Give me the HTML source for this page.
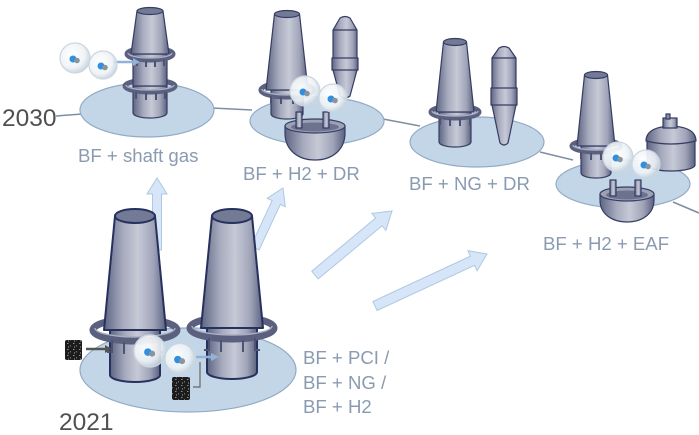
<!DOCTYPE html>
<html><head><meta charset="utf-8"><style>
html,body{margin:0;padding:0;background:#fff}
svg{display:block}
.t{font-family:"Liberation Sans",Arial,sans-serif;font-size:18.6px;fill:#8a9ab0}
.y{font-family:"Liberation Sans",Arial,sans-serif;font-size:24.5px;fill:#505050}
.o{stroke:#353d63;stroke-width:1.2;stroke-linejoin:round}
.ob{stroke:#27315e;stroke-width:2;stroke-linejoin:round}
.r{fill:none;stroke:#5a607e;stroke-width:5}
.rB{fill:none;stroke:#5a607e;stroke-width:7}
.h{fill:none;stroke:#a9aec2;stroke-width:1.4}
.hg{fill:none;stroke:#4d5372;stroke-width:2}
.pl{fill:#c3d6e8;stroke:#93abc4;stroke-width:1.2}
.ln{stroke:#7d8fa3;stroke-width:1.6;fill:none}
.ar{fill:#d6e6f8;stroke:#aec8e3;stroke-width:1}
</style></head><body>
<svg width="699" height="435" viewBox="0 0 699 435" xmlns="http://www.w3.org/2000/svg">
<defs>
<linearGradient id="m" x1="0" y1="0" x2="1" y2="0">
<stop offset="0" stop-color="#5e6583"/><stop offset="0.3" stop-color="#a6aabd"/><stop offset="0.55" stop-color="#c6c9d6"/><stop offset="0.8" stop-color="#a0a4b8"/><stop offset="1" stop-color="#5b6180"/>
</linearGradient>
<radialGradient id="sph" cx="0.4" cy="0.4" r="0.6">
<stop offset="0" stop-color="#ffffff" stop-opacity="0.95"/><stop offset="0.7" stop-color="#eef3f7" stop-opacity="0.9"/><stop offset="1" stop-color="#c8d5e0" stop-opacity="0.9"/>
</radialGradient>
<pattern id="coal" width="6" height="6" patternUnits="userSpaceOnUse">
<rect width="6" height="6" fill="#1c1c1c"/><rect x="1" y="1" width="1.5" height="1" fill="#8a8a8a"/><rect x="4" y="3" width="1" height="1.5" fill="#6a6a6a"/><rect x="2" y="4.5" width="1" height="1" fill="#aaa"/>
</pattern>
<g id="h2">
<circle cx="0" cy="0" r="15" fill="url(#sph)" stroke="#cbd6df" stroke-width="1.2"/>
<circle cx="28" cy="7" r="14" fill="url(#sph)" stroke="#cbd6df" stroke-width="1.2"/>
<circle cx="-2" cy="1" r="3.5" fill="#2f8fe0"/><circle cx="2" cy="2.5" r="2.8" fill="#8a949e"/>
<circle cx="26" cy="8" r="3.5" fill="#2f8fe0"/><circle cx="30" cy="9.5" r="2.8" fill="#8a949e"/>
</g>
</defs>

<!-- connector lines -->
<line class="ln" x1="56" y1="116" x2="82" y2="114"/>
<line class="ln" x1="212" y1="108" x2="252" y2="110"/>
<line class="ln" x1="383" y1="119" x2="420" y2="126"/>
<line class="ln" x1="540" y1="152" x2="573" y2="160"/>
<line class="ln" x1="673" y1="202" x2="699" y2="213"/>

<!-- platforms -->
<ellipse class="pl" cx="147" cy="110" rx="67" ry="27"/>
<ellipse class="pl" cx="317" cy="121" rx="67" ry="24"/>
<ellipse class="pl" cx="477" cy="142" rx="67" ry="25"/>
<ellipse class="pl" cx="623" cy="184" rx="67" ry="24"/>

<!-- big arrows -->
<polygon class="ar" points="161.5,250 161.5,194 167,194 157,178 147,194 152.5,194 152.5,250"/>
<polygon class="ar" points="259.1,249.9 280.3,204.4 285.3,206.7 283,188 267.1,198.3 272.1,200.6 250.9,246.1"/>
<polygon class="ar" points="318.2,278.9 382.1,225.8 385.9,230.4 392,211 371.9,213.4 375.7,218 311.8,271.2"/>
<polygon class="ar" points="377.1,310.5 474.6,265.3 477.1,270.7 487,254 467.9,250.7 470.4,256.2 372.9,301.5"/>

<!-- Furnace 1: shaft gas -->
<path class="o" d="M133,86 L133,113 A17,5 0 0 0 167,113 L167,86 Z" fill="url(#m)"/>
<path class="r" d="M125,86 A25,6 0 0 1 175,86"/>
<rect class="o" x="133" y="54" width="34" height="32" fill="url(#m)"/>
<path class="r" d="M125,86 A25,6 0 0 0 175,86"/>
<path class="h" d="M126,85 A24,5 0 0 0 174,85"/>
<path class="hg" d="M136,92v7M146,93v7M156,93v7M165,92v7"/>
<path class="r" d="M127,54 A23,6 0 0 1 173,54"/>
<path class="o" d="M137,11 L131,54 L169,54 L163,11 Z" fill="url(#m)"/>
<ellipse class="o" cx="150" cy="11" rx="13" ry="3.5" fill="#737a96"/>
<path class="r" d="M127,54 A23,6 0 0 0 173,54"/>
<path class="h" d="M128,53 A22,5 0 0 0 172,53"/>
<path class="hg" d="M137,60v6M146,61v6M155,61v6M164,60v6"/>
<line x1="113" y1="62" x2="134" y2="62" stroke="#8fb3d9" stroke-width="2.5"/>
<polygon points="133,58 140,62 133,66" fill="#8fb3d9"/>
<use href="#h2" transform="translate(75,58)"/>

<!-- Furnace 2 + DR + dome -->
<path class="o" d="M271,90 L271,114 A16,5 0 0 0 303,114 L303,90 Z" fill="url(#m)"/>
<path class="r" d="M261,90 A26,7 0 0 1 313,90"/>
<path class="o" d="M274.5,14 L266,90 L308,90 L299.5,14 Z" fill="url(#m)"/>
<ellipse class="o" cx="287" cy="14" rx="12.5" ry="3.5" fill="#737a96"/>
<path class="r" d="M261,90 A26,7 0 0 0 313,90"/>
<path class="h" d="M262,89 A25,6 0 0 0 312,89"/>
<path class="hg" d="M271,96v7M281,97v7M293,97v7M303,96v7"/>
<path class="o" d="M333,30 L340,18 Q345,15 350,18 L357,30 L357,58 L358,58 L358,70 L357,70 L350,96 Q345,100 340,96 L333,70 L332,70 L332,58 L333,58 Z" fill="url(#m)"/>
<path class="o" fill="none" d="M333,30 H357 M332,58 H358 M332,70 H358"/>
<path class="o" d="M285,126 L285,133 C285,150 298,160 315,160 C332,160 345,150 345,133 L345,126 Z" fill="url(#m)"/>
<ellipse class="o" cx="315" cy="126" rx="30" ry="7" fill="#9ca1b6"/>
<ellipse cx="315" cy="127" rx="24" ry="4.5" fill="#6d738f"/>
<rect class="o" x="296" y="112" width="6" height="16" fill="url(#m)"/>
<rect class="o" x="323" y="112" width="6" height="16" fill="url(#m)"/>
<use href="#h2" transform="translate(305,91)"/>

<!-- Furnace 3 + DR -->
<path class="o" d="M439,112 L439,142 A16,5 0 0 0 471,142 L471,112 Z" fill="url(#m)"/>
<path class="r" d="M431,112 A24,6 0 0 1 479,112"/>
<path class="o" d="M443.5,42 L436,112 L474,112 L466.5,42 Z" fill="url(#m)"/>
<ellipse class="o" cx="455" cy="42" rx="11.5" ry="3.5" fill="#737a96"/>
<path class="r" d="M431,112 A24,6 0 0 0 479,112"/>
<path class="h" d="M432,111 A23,5 0 0 0 478,111"/>
<path class="hg" d="M440,118v7M450,119v7M460,119v7M470,118v7"/>
<path class="o" d="M492,58 L499,48 Q504,45 509,48 L516,58 L516,88 L517,88 L517,105 L516,105 L508,143 Q504,147 500,143 L492,105 L491,105 L491,88 L492,88 Z" fill="url(#m)"/>
<path class="o" fill="none" d="M492,58 H516 M491,88 H517 M491,105 H517"/>

<!-- Furnace 4 + EAF + dome -->
<path class="o" d="M581,146 L581,173 A15,5 0 0 0 611,173 L611,146 Z" fill="url(#m)"/>
<path class="r" d="M572,146 A24,6 0 0 1 620,146"/>
<path class="o" d="M584.5,75 L577,146 L615,146 L607.5,75 Z" fill="url(#m)"/>
<ellipse class="o" cx="596" cy="75" rx="11.5" ry="3.5" fill="#737a96"/>
<path class="r" d="M572,146 A24,6 0 0 0 620,146"/>
<path class="h" d="M573,145 A23,5 0 0 0 619,145"/>
<path class="hg" d="M581,152v7M591,153v7M601,153v7M611,152v7"/>
<path class="o" d="M647,140 L647,165 A24,6 0 0 0 695,165 L695,140 Z" fill="url(#m)"/>
<path class="o" d="M646,141 Q646,127 671,126 Q696,127 696,141 Q671,147 646,141 Z" fill="url(#m)"/>
<rect class="o" x="663" y="118" width="14" height="10" fill="url(#m)"/>
<rect class="o" x="666" y="114" width="4" height="5" fill="#8a90a8"/>
<path class="o" d="M600,194 L600,200 C600,214 612,222 627,222 C642,222 654,214 654,200 L654,194 Z" fill="url(#m)"/>
<ellipse class="o" cx="627" cy="194" rx="27" ry="7" fill="#9ca1b6"/>
<ellipse cx="627" cy="195" rx="21" ry="4.5" fill="#6d738f"/>
<rect class="o" x="610" y="180" width="6" height="16" fill="url(#m)"/>
<rect class="o" x="635" y="180" width="6" height="16" fill="url(#m)"/>
<use href="#h2" transform="translate(618,157)"/>

<!-- Bottom platform -->
<ellipse class="pl" cx="188" cy="370" rx="108" ry="42"/>

<!-- Bottom left furnace -->
<path class="ob" d="M110,330 L110,375 A25,7 0 0 0 160,375 L160,330 Z" fill="url(#m)"/>
<path class="rB" d="M93,330 A42,11 0 0 1 177,330"/>
<path class="ob" d="M115,216 L104,330 L166,330 L155,216 Z" fill="url(#m)"/>
<ellipse class="ob" cx="135" cy="216" rx="20" ry="7" fill="#737a96"/>
<path class="rB" d="M93,330 A42,11 0 0 0 177,330"/>
<path class="h" d="M95,328 A40,9 0 0 0 175,328"/>
<path class="hg" d="M112,340v12h-5M124,342v12M146,342v12M158,340v12h5"/>

<!-- Bottom right furnace -->
<path class="ob" d="M207,328 L207,372 A25,7 0 0 0 257,372 L257,328 Z" fill="url(#m)"/>
<path class="rB" d="M190,328 A42,11 0 0 1 274,328"/>
<path class="ob" d="M212,216 L201,328 L263,328 L252,216 Z" fill="url(#m)"/>
<ellipse class="ob" cx="232" cy="216" rx="20" ry="7" fill="#737a96"/>
<path class="rB" d="M190,328 A42,11 0 0 0 274,328"/>
<path class="h" d="M192,326 A40,9 0 0 0 272,326"/>
<path class="hg" d="M209,338v12h-5M221,340v12M243,340v12M255,338v12h5"/>

<!-- coal & small arrows -->
<rect x="65" y="340" width="17" height="20" rx="2" fill="url(#coal)"/>
<rect x="172" y="377" width="18" height="23" rx="2" fill="url(#coal)"/>
<line x1="86" y1="349" x2="106" y2="349" stroke="#555" stroke-width="2.5"/>
<polygon points="105,345 112,349 105,353" fill="#555"/>
<polyline points="193,387 200,387 200,362" fill="none" stroke="#666" stroke-width="1.2"/>
<line x1="196" y1="357" x2="212" y2="357" stroke="#8fb3d9" stroke-width="2.5"/>
<polygon points="211,353 219,357 211,361" fill="#8fb3d9"/>
<use href="#h2" transform="translate(150,351) scale(1.07)"/>

<!-- labels -->
<text class="y" x="2" y="126">2030</text>
<text class="y" x="59" y="430">2021</text>
<text class="t" x="78" y="162">BF + shaft gas</text>
<text class="t" x="243" y="180">BF + H2 + DR</text>
<text class="t" x="409" y="190">BF + NG + DR</text>
<text class="t" x="543" y="250">BF + H2 + EAF</text>
<text class="t" x="303" y="364">BF + PCI /</text>
<text class="t" x="303" y="389">BF + NG /</text>
<text class="t" x="303" y="413">BF + H2</text>
</svg>
</body></html>
